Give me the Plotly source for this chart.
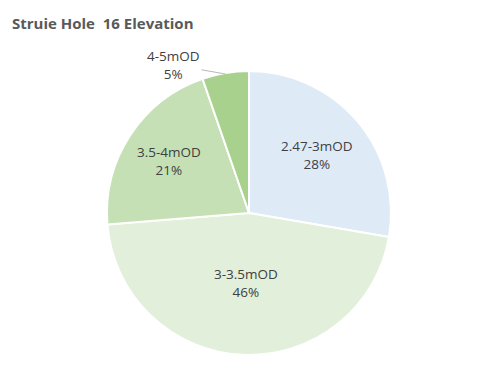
import math
import plotly.graph_objects as go

labels = ["2.47-3mOD", "3-3.5mOD", "3.5-4mOD", "4-5mOD"]
values = [27.7, 46.0, 21.0, 5.3]
colors = ["#DEEBF7", "#E2EFDA", "#C5E0B4", "#A9D18E"]
label_radius = [0.63, 0.49, 0.67, None]  # None -> outside label with leader

# page body has an 8px default margin, so the figure is the window minus 16px
OFF = 8
W, H = 499 - 2 * OFF, 392 - 2 * OFF
cx, cy, R = 249.0 - OFF, 213.0 - OFF, 142.0  # pixel centre / radius of the pie

fig = go.Figure(go.Pie(
    labels=labels, values=values, sort=False, direction="clockwise", rotation=0,
    marker=dict(colors=colors, line=dict(color="white", width=2)),
    textinfo="none", hoverinfo="label+percent", showlegend=False,
    domain=dict(x=[(cx - R) / W, (cx + R) / W], y=[(H - cy - R) / H, (H - cy + R) / H]),
))

total = sum(values)
cum = 0
annotations = []
font = dict(family="Open Sans, Liberation Sans, sans-serif", size=13.5, color="#404040")
for lab, v, rf in zip(labels, values, label_radius):
    mid = (cum + v / 2) / total * 2 * math.pi
    cum += v
    pct = f"{round(v / total * 100)}%"
    if rf is not None:
        px = cx + rf * R * math.sin(mid)
        py = cy - rf * R * math.cos(mid)
        annotations.append(dict(x=px / W, y=1 - py / H, xref="paper", yref="paper",
                                xanchor="center", yanchor="middle",
                                text=f"{lab}<br>{pct}", showarrow=False, font=font))
    else:
        px = cx + R * math.sin(mid)
        py = cy - R * math.cos(mid) + 1
        annotations.append(dict(x=px / W, y=1 - py / H, xref="paper", yref="paper",
                                xanchor="center", yanchor="middle",
                                text=f"{lab}<br>{pct}", showarrow=True, arrowhead=0,
                                arrowwidth=0.8, arrowcolor="#A6A6A6", ax=-52, ay=-9,
                                font=font, standoff=0))

fig.update_layout(
    width=W, height=H, margin=dict(l=0, r=0, t=0, b=0),
    paper_bgcolor="white", plot_bgcolor="white",
    title=dict(text="<b>Struie Hole  16 Elevation</b>", x=(12 - OFF) / W, xanchor="left",
               y=1 - (24 - OFF) / H, yanchor="middle",
               font=dict(family="Open Sans, Liberation Sans, sans-serif", size=15, color="#595959")),
    annotations=annotations,
)
fig.write_html("out.html")
